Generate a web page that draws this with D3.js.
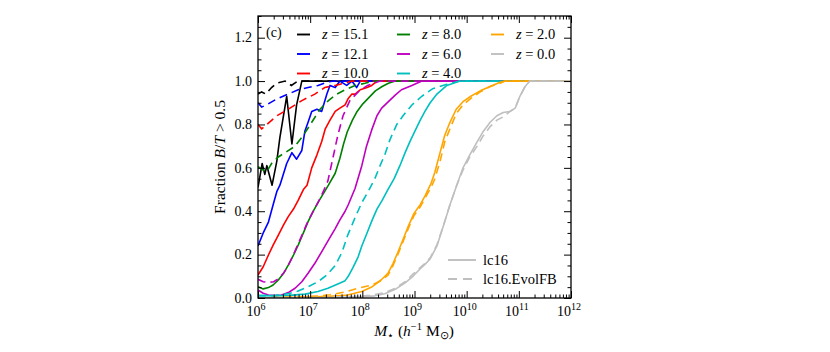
<!DOCTYPE html>
<html><head><meta charset="utf-8">
<script src="https://cdn.jsdelivr.net/npm/d3@7"></script>
<style>
body{margin:0;background:#fff}
svg{display:block}
text{font-family:"Liberation Serif","Times New Roman",serif;fill:#000}
</style>
</head><body>
<svg id="chart" width="830" height="352"></svg>
<script>
// ---------------- data (x = log10 M*, y = fraction B/T > 0.5) ----------------
const redshifts = ["15.1","12.1","10.0","8.0","6.0","4.0","2.0","0.0"];
const modelNames = ["lc16","lc16.EvolFB"];
const xTickExponents = [6,7,8,9,10,11,12];
const yTickValues = [0,0.2,0.4,0.6,0.8,1.0,1.2];

const lc16_z15_1 = [[6.0,0.51],[6.08,0.62],[6.13,0.57],[6.17,0.61],[6.27,0.52],[6.36,0.63],[6.42,0.74],[6.55,0.93],[6.65,0.71],[6.74,0.89],[6.84,1.0],[12,1.0]];
const evol_z15_1 = [[6.0,0.94],[6.07,0.95],[6.15,0.94],[6.26,0.97],[6.36,0.99],[6.52,1.0],[6.64,0.98],[6.76,1.0],[12,1.0]];

const lc16_z12_1 = [[6.0,0.24],[6.10,0.30],[6.20,0.35],[6.29,0.43],[6.36,0.49],[6.42,0.52],[6.55,0.62],[6.65,0.67],[6.74,0.64],[6.84,0.68],[6.90,0.77],[6.96,0.81],[7.03,0.86],[7.13,0.87],[7.22,0.86],[7.32,0.94],[7.38,0.98],[7.48,0.97],[7.57,1.0],[7.70,0.98],[7.80,1.0],[7.89,0.97],[7.96,1.0],[12,1.0]];
const evol_z12_1 = [[6.0,0.90],[6.07,0.88],[6.16,0.89],[6.38,0.92],[6.58,0.94],[6.77,0.96],[6.96,0.97],[7.15,0.98],[7.32,0.995],[7.45,1.0],[12,1.0]];

const lc16_z10_0 = [[6.0,0.106],[6.10,0.144],[6.20,0.198],[6.29,0.244],[6.39,0.29],[6.49,0.337],[6.58,0.375],[6.68,0.41],[6.77,0.45],[6.87,0.50],[6.94,0.52],[7.03,0.60],[7.13,0.66],[7.22,0.72],[7.29,0.78],[7.38,0.82],[7.48,0.86],[7.57,0.875],[7.67,0.89],[7.73,0.92],[7.80,0.94],[7.86,0.94],[7.96,0.96],[8.09,0.97],[8.18,0.98],[8.28,1.0],[12,1.0]];
const evol_z10_0 = [[6.0,0.80],[6.07,0.78],[6.17,0.80],[6.36,0.84],[6.58,0.87],[6.84,0.91],[7.09,0.94],[7.28,0.97],[7.48,0.98],[7.65,0.99],[7.8,1.0],[12,1.0]];

const lc16_z8_0 = [[6.0,0.052],[6.10,0.042],[6.20,0.048],[6.29,0.06],[6.39,0.083],[6.49,0.114],[6.58,0.152],[6.68,0.198],[6.77,0.244],[6.87,0.30],[6.96,0.352],[7.06,0.40],[7.16,0.444],[7.25,0.48],[7.35,0.52],[7.48,0.575],[7.57,0.644],[7.64,0.71],[7.71,0.765],[7.81,0.82],[7.90,0.86],[8.01,0.895],[8.13,0.925],[8.25,0.955],[8.38,0.975],[8.50,0.99],[8.63,1.0],[12,1.0]];
const evol_z8_0 = [[6.0,0.605],[6.10,0.59],[6.16,0.58],[6.26,0.62],[6.39,0.65],[6.55,0.675],[6.71,0.70],[6.87,0.75],[7.03,0.81],[7.19,0.87],[7.35,0.91],[7.51,0.94],[7.67,0.96],[7.86,0.98],[8.05,0.99],[8.2,1.0],[12,1.0]];

const lc16_z6_0 = [[6.0,0.037],[6.10,0.022],[6.20,0.014],[6.33,0.011],[6.45,0.014],[6.58,0.025],[6.71,0.045],[6.84,0.075],[6.96,0.114],[7.09,0.16],[7.22,0.213],[7.35,0.267],[7.48,0.32],[7.57,0.36],[7.67,0.40],[7.73,0.43],[7.86,0.505],[7.99,0.61],[8.08,0.70],[8.18,0.775],[8.28,0.84],[8.37,0.875],[8.50,0.905],[8.63,0.935],[8.75,0.96],[8.95,0.98],[9.14,1.0],[12,1.0]];
const evol_z6_0 = [[6.0,0.086],[6.10,0.075],[6.20,0.072],[6.30,0.075],[6.40,0.09],[6.50,0.118],[6.58,0.15],[6.68,0.20],[6.77,0.25],[6.87,0.305],[6.96,0.355],[7.06,0.40],[7.16,0.445],[7.25,0.49],[7.34,0.54],[7.44,0.65],[7.53,0.75],[7.63,0.84],[7.76,0.91],[7.92,0.95],[8.10,0.98],[8.34,1.0],[12,1.0]];

const lc16_z4_0 = [[6.0,0.012],[6.3,0.01],[6.6,0.012],[6.9,0.018],[7.15,0.03],[7.34,0.045],[7.53,0.065],[7.67,0.08],[7.73,0.10],[7.82,0.14],[7.92,0.19],[7.99,0.24],[8.09,0.30],[8.19,0.36],[8.28,0.41],[8.38,0.45],[8.49,0.50],[8.61,0.55],[8.72,0.61],[8.82,0.67],[8.91,0.72],[9.01,0.77],[9.11,0.82],[9.20,0.86],[9.30,0.90],[9.43,0.94],[9.62,0.98],[9.87,1.0],[12,1.0]];
const evol_z4_0 = [[6.0,0.01],[6.33,0.012],[6.58,0.02],[6.77,0.032],[6.96,0.052],[7.15,0.075],[7.32,0.106],[7.48,0.15],[7.61,0.21],[7.72,0.29],[7.86,0.37],[7.99,0.44],[8.11,0.49],[8.24,0.55],[8.34,0.61],[8.43,0.66],[8.53,0.73],[8.66,0.80],[8.78,0.84],[8.95,0.89],[9.14,0.93],[9.35,0.965],[9.62,0.985],[9.87,1.0],[12,1.0]];

const lc16_z2_0 = [[6.0,0.0],[6.5,0.002],[6.8,0.003],[7.38,0.008],[7.72,0.014],[7.99,0.03],[8.19,0.052],[8.36,0.083],[8.49,0.114],[8.59,0.16],[8.68,0.21],[8.78,0.27],[8.88,0.33],[8.99,0.39],[9.11,0.43],[9.20,0.47],[9.32,0.53],[9.39,0.58],[9.49,0.67],[9.58,0.75],[9.68,0.81],[9.80,0.87],[9.93,0.905],[10.08,0.93],[10.26,0.955],[10.45,0.975],[10.64,0.995],[10.74,1.0],[12,1.0]];
const evol_z2_0 = [[6.0,0.0],[6.5,0.003],[6.8,0.005],[7.19,0.01],[7.38,0.015],[7.67,0.028],[7.92,0.045],[8.19,0.06],[8.36,0.08],[8.49,0.105],[8.57,0.14],[8.68,0.20],[8.78,0.26],[8.88,0.32],[8.99,0.38],[9.11,0.42],[9.20,0.46],[9.32,0.51],[9.39,0.55],[9.49,0.63],[9.58,0.72],[9.68,0.78],[9.80,0.85],[9.93,0.89],[10.08,0.92],[10.26,0.95],[10.45,0.975],[10.64,0.99],[10.74,1.0],[12,1.0]];

const lc16_z0_0 = [[6.0,0.0],[7.0,0.001],[7.5,0.002],[7.95,0.005],[8.24,0.01],[8.43,0.02],[8.63,0.04],[8.82,0.07],[8.97,0.10],[9.11,0.135],[9.20,0.155],[9.30,0.18],[9.43,0.24],[9.55,0.33],[9.68,0.43],[9.81,0.52],[9.93,0.60],[10.06,0.66],[10.20,0.72],[10.31,0.765],[10.45,0.81],[10.58,0.84],[10.70,0.855],[10.83,0.86],[10.93,0.875],[11.02,0.93],[11.12,0.975],[11.21,1.0],[12,1.0]];
const evol_z0_0 = [[6.0,0.0],[7.0,0.001],[7.5,0.003],[7.75,0.005],[8.14,0.012],[8.43,0.025],[8.63,0.045],[8.82,0.075],[8.97,0.11],[9.11,0.14],[9.20,0.16],[9.30,0.185],[9.43,0.245],[9.55,0.33],[9.68,0.43],[9.81,0.52],[9.93,0.59],[10.06,0.65],[10.20,0.70],[10.31,0.745],[10.45,0.79],[10.58,0.82],[10.70,0.835],[10.83,0.86],[10.93,0.875],[11.02,0.93],[11.12,0.975],[11.21,1.0],[12,1.0]];

const lc16Series = [lc16_z15_1, lc16_z12_1, lc16_z10_0, lc16_z8_0, lc16_z6_0, lc16_z4_0, lc16_z2_0, lc16_z0_0];
const evolSeries = [evol_z15_1, evol_z12_1, evol_z10_0, evol_z8_0, evol_z6_0, evol_z4_0, evol_z2_0, evol_z0_0];

// ---------------- styles ----------------
const colors = ["#000000","#0000ff","#ff0000","#008000","#bf00bf","#00bfbf","#ffa500","#bfbfbf"];
const LW = 1.6, DASH = "8,5";

const svg = d3.select("#chart");
const L = 258, R = 571, T = 16, B = 298;
const x = d3.scaleLog().domain([1e6, 1e12]).range([L, R]);
const y = d3.scaleLinear().domain([0, 1.3]).range([B, T]);

svg.append("defs").append("clipPath").attr("id","clip")
  .append("rect").attr("x",L).attr("y",T).attr("width",R-L).attr("height",B-T);

const line = d3.line().x(d => x(Math.pow(10, d[0]))).y(d => y(d[1]));
const gLines = svg.append("g").attr("clip-path","url(#clip)");
redshifts.forEach((z, i) => {
  gLines.append("path").datum(lc16Series[i]).attr("d", line)
    .attr("fill","none").attr("stroke",colors[i]).attr("stroke-width",LW)
    .attr("stroke-linejoin","round");
  gLines.append("path").datum(evolSeries[i]).attr("d", line)
    .attr("fill","none").attr("stroke",colors[i]).attr("stroke-width",LW)
    .attr("stroke-dasharray",DASH);
});

// ---------------- axes (inward ticks on all sides) ----------------
const xMajor = xTickExponents.map(e => Math.pow(10, e));
const xMinor = [];
for (let e = 6; e < 12; e++) for (let k = 2; k <= 9; k++) xMinor.push(k * Math.pow(10, e));
const yMinor = d3.range(0, 1.3001, 0.05).filter(v => Math.abs(v*5 - Math.round(v*5)) > 1e-6);

function styleAxis(g){ g.select(".domain").remove(); g.selectAll("line").attr("stroke","#000").attr("stroke-width",1); g.selectAll("text").remove(); }

svg.append("g").attr("transform",`translate(0,${B})`).call(d3.axisBottom(x).tickValues(xMajor).tickSizeInner(-7).tickSizeOuter(0)).call(styleAxis);
svg.append("g").attr("transform",`translate(0,${B})`).call(d3.axisBottom(x).tickValues(xMinor).tickSizeInner(-3.5).tickSizeOuter(0)).call(styleAxis);
svg.append("g").attr("transform",`translate(0,${T})`).call(d3.axisTop(x).tickValues(xMajor).tickSizeInner(-7).tickSizeOuter(0)).call(styleAxis);
svg.append("g").attr("transform",`translate(0,${T})`).call(d3.axisTop(x).tickValues(xMinor).tickSizeInner(-3.5).tickSizeOuter(0)).call(styleAxis);
svg.append("g").attr("transform",`translate(${L},0)`).call(d3.axisLeft(y).tickValues(yTickValues).tickSizeInner(-7).tickSizeOuter(0)).call(styleAxis);
svg.append("g").attr("transform",`translate(${L},0)`).call(d3.axisLeft(y).tickValues(yMinor).tickSizeInner(-3.5).tickSizeOuter(0)).call(styleAxis);
svg.append("g").attr("transform",`translate(${R},0)`).call(d3.axisRight(y).tickValues(yTickValues).tickSizeInner(-7).tickSizeOuter(0)).call(styleAxis);
svg.append("g").attr("transform",`translate(${R},0)`).call(d3.axisRight(y).tickValues(yMinor).tickSizeInner(-3.5).tickSizeOuter(0)).call(styleAxis);

svg.append("rect").attr("x",L).attr("y",T).attr("width",R-L).attr("height",B-T)
  .attr("fill","none").attr("stroke","#000").attr("stroke-width",1.3);

// tick labels
svg.append("g").selectAll("text").data(yTickValues).join("text")
  .attr("x", L - 6).attr("y", d => y(d) + 4.7).attr("text-anchor","end")
  .attr("font-size", 14).text(d => d3.format(".1f")(d));

const xl = svg.append("g").selectAll("text").data(xTickExponents).join("text")
  .attr("x", d => x(Math.pow(10,d)) - 2).attr("y", 316).attr("text-anchor","middle").attr("font-size",14);
xl.append("tspan").text("10");
xl.append("tspan").attr("font-size",10).attr("dy",-6).text(d => d);

// axis titles
const xt = svg.append("text").attr("x", 414).attr("y", 336).attr("text-anchor","middle").attr("font-size",15.5);
xt.append("tspan").attr("font-style","italic").text("M");
xt.append("tspan").attr("font-size",10.5).attr("dy",3).text("\u22C6");
xt.append("tspan").attr("dy",-3).text(" (");
xt.append("tspan").attr("font-style","italic").text("h");
xt.append("tspan").attr("font-size",10.5).attr("dy",-6).text("\u22121");
xt.append("tspan").attr("dy",6).text(" M");
xt.append("tspan").attr("font-size",10.5).attr("dy",3).text("\u2299");
xt.append("tspan").attr("dy",-3).text(")");

const yt = svg.append("text").attr("transform","translate(225,157) rotate(-90)").attr("text-anchor","middle").attr("font-size",15.5);
yt.append("tspan").text("Fraction ");
yt.append("tspan").attr("font-style","italic").text("B");
yt.append("tspan").text("/");
yt.append("tspan").attr("font-style","italic").text("T");
yt.append("tspan").text(" > 0.5");

svg.append("text").attr("x",266).attr("y",36.5).attr("font-size",14).text("(c)");

// legend for redshifts
const legX = [297, 397, 491], legTextX = [322, 422, 516], legY = [34.5, 54, 73.5];
redshifts.forEach((z, i) => {
  const col = Math.floor(i / 3), row = i % 3;
  svg.append("line").attr("x1",legX[col]).attr("x2",legX[col]+13)
    .attr("y1",legY[row]).attr("y2",legY[row])
    .attr("stroke",colors[i]).attr("stroke-width",LW+0.3);
  const t = svg.append("text").attr("x",legTextX[col]).attr("y",legY[row]+4.9).attr("font-size",14.5);
  t.append("tspan").attr("font-style","italic").text("z");
  t.append("tspan").text(" = " + z);
});

// legend for models
const mY = [260, 279];
modelNames.forEach((m, i) => {
  svg.append("line").attr("x1",448).attr("x2",476).attr("y1",mY[i]).attr("y2",mY[i])
    .attr("stroke",colors[7]).attr("stroke-width",LW+0.3)
    .attr("stroke-dasharray", i === 1 ? "9,6" : null);
  svg.append("text").attr("x",483).attr("y",mY[i]+4.9).attr("font-size",14.5).text(m);
});
</script>
</body></html>
